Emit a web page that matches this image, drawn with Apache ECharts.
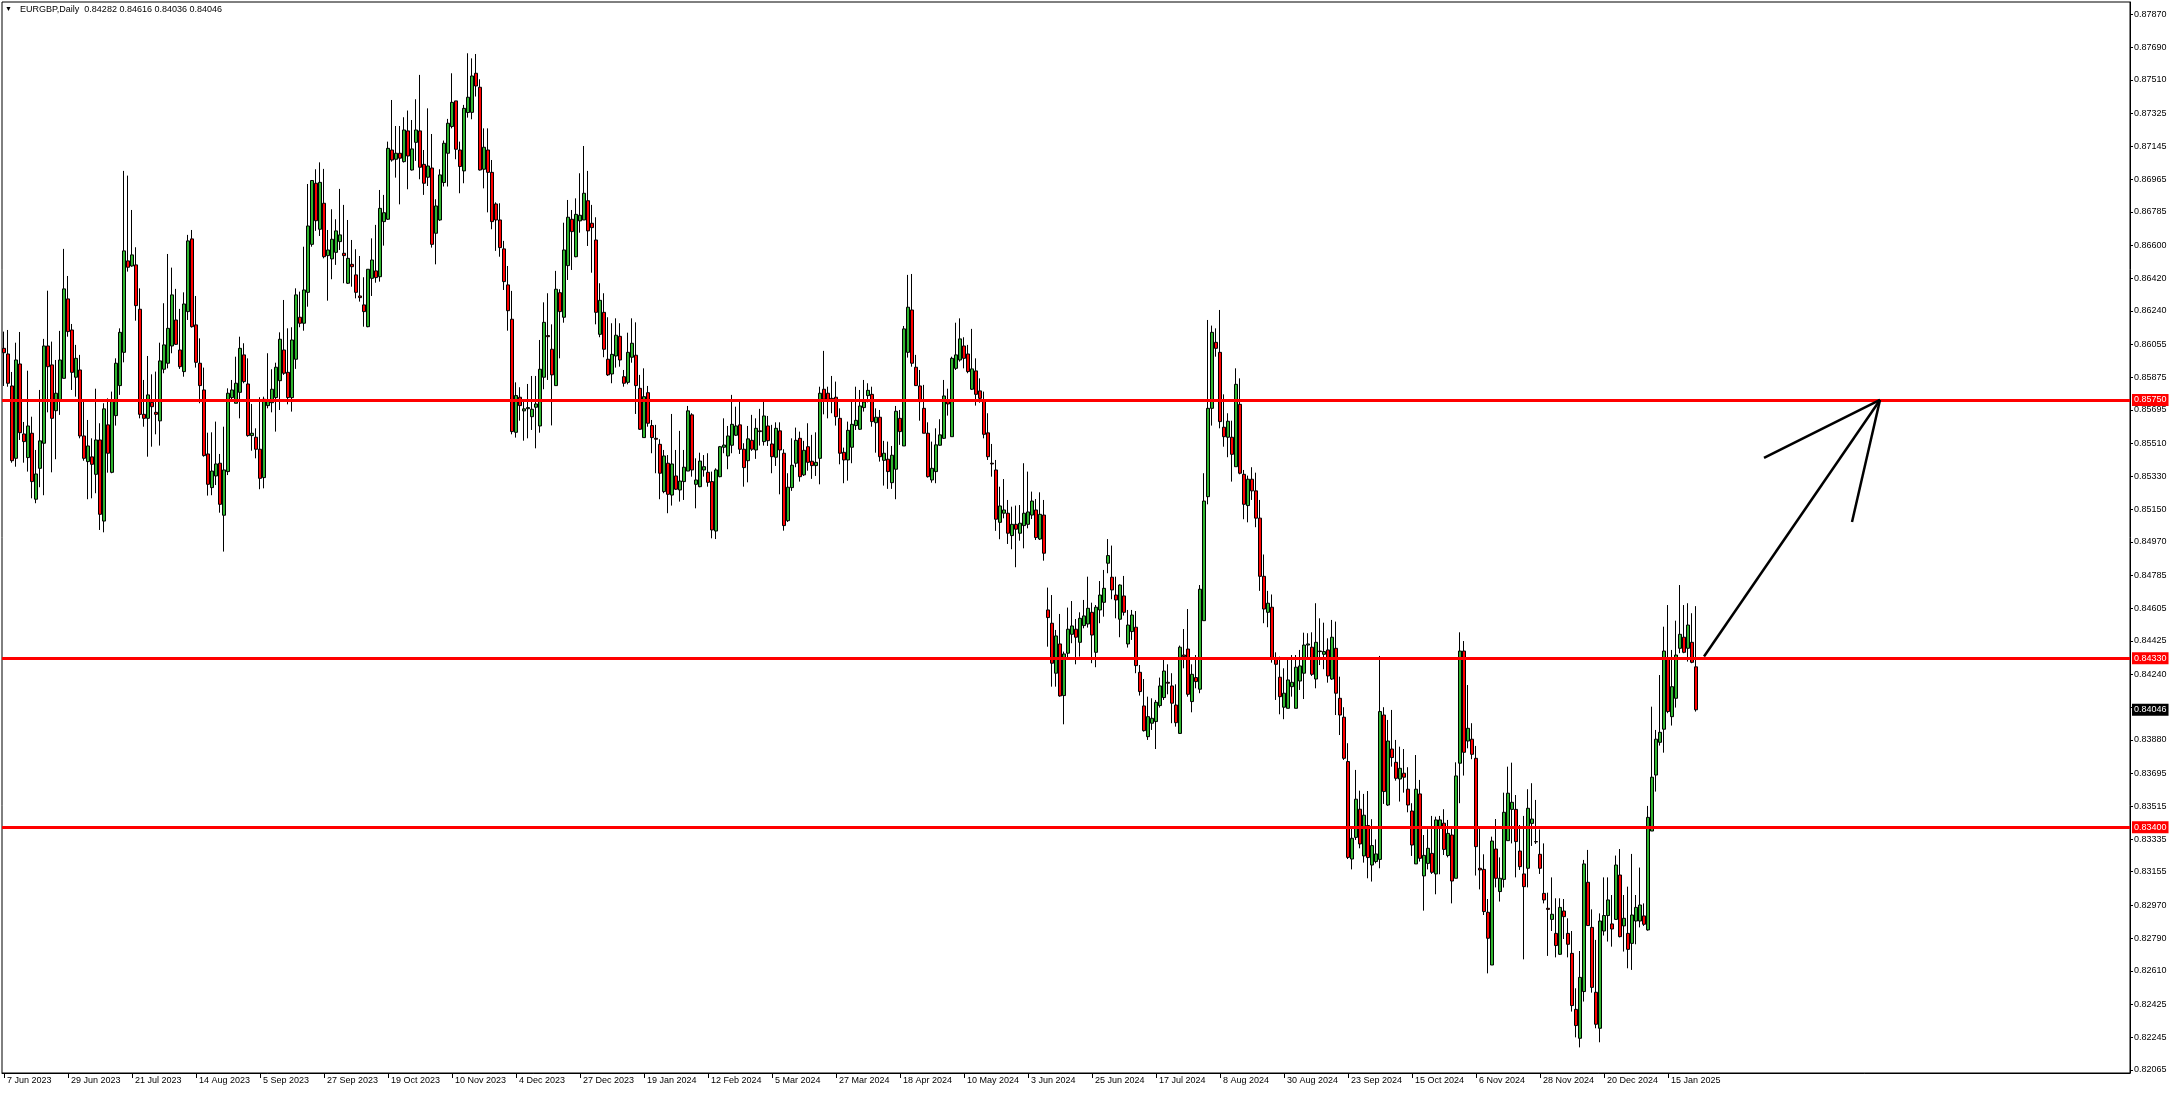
<!DOCTYPE html>
<html>
<head>
<meta charset="utf-8">
<script src="https://cdn.jsdelivr.net/npm/echarts@6/dist/echarts.min.js"></script>
<style>
html,body{margin:0;padding:0;background:#fff;}
#chart{width:2176px;height:1094px;}
</style>
</head>
<body>
<div id="chart"></div>
<script>
const symbolName = 'EURGBP';
const period = 'Daily';

// Daily candles, each row: [open, high, low, close]
const ohlc = [
[0.86034,0.86126,0.85827,0.86010],[0.86003,0.86135,0.85823,0.85842],[0.85827,0.85904,0.85405,0.85416],[0.85429,0.86065,0.85383,0.85970],
[0.85948,0.86124,0.85530,0.85570],[0.85563,0.85629,0.85405,0.85521],[0.85433,0.85911,0.85356,0.85607],[0.85567,0.85658,0.85209,0.85301],
[0.85204,0.85475,0.85182,0.85343],[0.85374,0.85805,0.85270,0.85525],[0.85512,0.86086,0.85226,0.86047],[0.86047,0.86351,0.85682,0.85933],
[0.85943,0.86071,0.85352,0.85649],[0.85691,0.85970,0.85424,0.85787],[0.85750,0.86130,0.85668,0.85970],[0.85869,0.86581,0.85869,0.86361],
[0.86306,0.86432,0.86098,0.86126],[0.86135,0.86168,0.85805,0.85902],[0.85875,0.86053,0.85768,0.85979],[0.85915,0.85998,0.85539,0.85552],
[0.85552,0.85754,0.85416,0.85429],[0.85411,0.85640,0.85204,0.85497],[0.85437,0.85539,0.85209,0.85396],[0.85341,0.85812,0.85237,0.85530],
[0.85530,0.85622,0.85035,0.85121],[0.85084,0.85732,0.85022,0.85701],[0.85613,0.85759,0.85350,0.85457],[0.85352,0.85796,0.85347,0.85746],
[0.85664,0.85979,0.85609,0.85952],[0.85829,0.86144,0.85778,0.86122],[0.86012,0.87010,0.85957,0.86570],[0.86515,0.86984,0.86456,0.86480],
[0.86487,0.86795,0.86483,0.86548],[0.86493,0.86590,0.86186,0.86269],[0.86249,0.86364,0.85649,0.85671],[0.85671,0.85860,0.85603,0.85649],
[0.85649,0.85992,0.85438,0.85778],[0.85737,0.85891,0.85493,0.85713],[0.85682,0.85906,0.85561,0.85671],[0.85635,0.86065,0.85499,0.85965],
[0.85919,0.86282,0.85897,0.86053],[0.85952,0.86553,0.85924,0.86144],[0.86047,0.86478,0.86007,0.86328],[0.86190,0.86361,0.86053,0.86056],
[0.86025,0.86251,0.85921,0.85933],[0.85906,0.86342,0.85878,0.86278],[0.86236,0.86658,0.86190,0.86625],[0.86636,0.86685,0.86148,0.86153],
[0.86163,0.86322,0.85928,0.85957],[0.85952,0.86089,0.85732,0.85829],[0.85805,0.85928,0.85438,0.85444],[0.85453,0.85570,0.85224,0.85286],
[0.85268,0.85572,0.85226,0.85359],[0.85332,0.85631,0.85282,0.85398],[0.85402,0.85453,0.85130,0.85176],[0.85116,0.85603,0.84916,0.85365],
[0.85356,0.85814,0.85337,0.85787],[0.85763,0.85860,0.85741,0.85805],[0.85732,0.85988,0.85732,0.85842],[0.85792,0.86098,0.85649,0.86034],
[0.85998,0.86062,0.85842,0.85851],[0.85838,0.85979,0.85548,0.85554],[0.85554,0.85728,0.85471,0.85567],[0.85545,0.85594,0.85429,0.85479],
[0.85479,0.85765,0.85259,0.85319],[0.85323,0.85768,0.85264,0.85754],[0.85719,0.86007,0.85704,0.85750],[0.85735,0.85919,0.85682,0.85809],
[0.85763,0.85955,0.85576,0.85930],[0.85856,0.86122,0.85695,0.86084],[0.86025,0.86300,0.85888,0.85897],[0.85902,0.86144,0.85726,0.85763],
[0.85763,0.86150,0.85686,0.86080],[0.85974,0.86364,0.85921,0.86328],[0.86205,0.86346,0.86150,0.86172],[0.86172,0.86593,0.86131,0.86355],
[0.86342,0.86938,0.86263,0.86707],[0.86606,0.86960,0.86593,0.86957],[0.86942,0.87019,0.86680,0.86736],[0.86689,0.87057,0.86652,0.86947],
[0.86832,0.87021,0.86529,0.86538],[0.86544,0.86685,0.86296,0.86575],[0.86526,0.86799,0.86414,0.86634],[0.86562,0.86744,0.86493,0.86680],
[0.86621,0.86911,0.86575,0.86658],[0.86557,0.86823,0.86392,0.86544],[0.86392,0.86740,0.86388,0.86529],[0.86496,0.86630,0.86373,0.86483],
[0.86438,0.86579,0.86309,0.86342],[0.86322,0.86542,0.86291,0.86313],[0.86273,0.86425,0.86153,0.86236],[0.86153,0.86469,0.86150,0.86469],
[0.86419,0.86639,0.86322,0.86520],[0.86460,0.86713,0.86395,0.86423],[0.86428,0.86905,0.86401,0.86804],[0.86731,0.86878,0.86599,0.86780],
[0.86744,0.87171,0.86740,0.87134],[0.87125,0.87400,0.87061,0.87070],[0.87074,0.87257,0.86973,0.87107],[0.87107,0.87257,0.86826,0.87080],
[0.87061,0.87305,0.87056,0.87235],[0.87230,0.87342,0.86909,0.87092],[0.87015,0.87290,0.87012,0.87131],[0.87167,0.87404,0.87065,0.87235],
[0.87230,0.87538,0.86964,0.87030],[0.87046,0.87125,0.86878,0.86942],[0.86975,0.87354,0.86927,0.87037],[0.87026,0.87213,0.86588,0.86606],
[0.86667,0.86854,0.86496,0.86817],[0.86740,0.87019,0.86735,0.86988],[0.86946,0.87177,0.86924,0.87162],[0.87107,0.87296,0.86924,0.87272],
[0.87254,0.87547,0.87244,0.87387],[0.87395,0.87395,0.87074,0.87129],[0.87125,0.87171,0.86887,0.87034],[0.87010,0.87373,0.86942,0.87354],
[0.87331,0.87657,0.87303,0.87415],[0.87332,0.87629,0.87294,0.87532],[0.87547,0.87653,0.87419,0.87477],[0.87470,0.87514,0.87012,0.87015],
[0.87019,0.87244,0.86914,0.87140],[0.87125,0.87244,0.86782,0.87002],[0.87002,0.87070,0.86689,0.86731],[0.86828,0.86837,0.86570,0.86740],
[0.86740,0.86832,0.86538,0.86588],[0.86581,0.86625,0.86355,0.86401],[0.86383,0.86487,0.86131,0.86241],[0.86194,0.86350,0.85561,0.85576],
[0.85572,0.85847,0.85543,0.85774],[0.85765,0.85820,0.85636,0.85719],[0.85690,0.85741,0.85526,0.85701],[0.85702,0.85838,0.85539,0.85708],
[0.85658,0.85882,0.85585,0.85699],[0.85710,0.85882,0.85484,0.85728],[0.85607,0.86080,0.85570,0.85919],[0.85875,0.86287,0.85809,0.86177],
[0.86104,0.86337,0.85860,0.86098],[0.86029,0.86166,0.85610,0.85888],[0.85829,0.86460,0.85829,0.86359],[0.86340,0.86359,0.85979,0.86236],
[0.86205,0.86725,0.86175,0.86575],[0.86489,0.86850,0.86410,0.86755],[0.86744,0.86795,0.86465,0.86676],[0.86538,0.86859,0.86535,0.86771],
[0.86735,0.86997,0.86670,0.86766],[0.86740,0.87147,0.86740,0.86887],[0.86846,0.87010,0.86597,0.86680],[0.86722,0.86823,0.86450,0.86698],
[0.86630,0.86755,0.86166,0.86232],[0.86111,0.86392,0.86095,0.86298],[0.86232,0.86337,0.85985,0.86029],[0.85974,0.86205,0.85882,0.85888],
[0.85893,0.86172,0.85842,0.86001],[0.85992,0.86199,0.85928,0.86106],[0.86100,0.86172,0.85933,0.85970],[0.85878,0.85915,0.85823,0.85842],
[0.85847,0.86120,0.85836,0.86012],[0.85985,0.86199,0.85955,0.86062],[0.85996,0.86177,0.85673,0.85829],[0.85814,0.85888,0.85585,0.85589],
[0.85543,0.85924,0.85543,0.85768],[0.85790,0.85827,0.85603,0.85622],[0.85609,0.85640,0.85457,0.85543],[0.85539,0.85613,0.85347,0.85534],
[0.85506,0.85534,0.85204,0.85347],[0.85246,0.85475,0.85237,0.85442],[0.85402,0.85447,0.85127,0.85231],[0.85227,0.85673,0.85169,0.85398],
[0.85332,0.85475,0.85255,0.85259],[0.85255,0.85580,0.85191,0.85304],[0.85301,0.85475,0.85200,0.85380],[0.85359,0.85717,0.85359,0.85690],
[0.85668,0.85677,0.85328,0.85365],[0.85286,0.85429,0.85154,0.85310],[0.85273,0.85460,0.85270,0.85414],[0.85365,0.85447,0.85328,0.85383],
[0.85352,0.85457,0.85273,0.85297],[0.85301,0.85356,0.84989,0.85035],[0.85029,0.85374,0.84985,0.85365],[0.85328,0.85497,0.85325,0.85493],
[0.85490,0.85649,0.85457,0.85502],[0.85442,0.85607,0.85369,0.85552],[0.85501,0.85778,0.85457,0.85616],[0.85556,0.85713,0.85552,0.85607],
[0.85613,0.85745,0.85453,0.85479],[0.85479,0.85512,0.85273,0.85378],[0.85416,0.85607,0.85297,0.85536],[0.85528,0.85668,0.85470,0.85479],
[0.85475,0.85649,0.85426,0.85594],[0.85580,0.85701,0.85499,0.85576],[0.85521,0.85754,0.85499,0.85662],[0.85607,0.85662,0.85497,0.85526],
[0.85508,0.85613,0.85347,0.85438],[0.85435,0.85627,0.85387,0.85594],[0.85580,0.85627,0.85231,0.85475],[0.85457,0.85479,0.85031,0.85059],
[0.85086,0.85347,0.85079,0.85270],[0.85268,0.85539,0.85250,0.85391],[0.85402,0.85598,0.85380,0.85528],[0.85539,0.85576,0.85301,0.85328],
[0.85338,0.85525,0.85332,0.85473],[0.85493,0.85622,0.85361,0.85407],[0.85413,0.85558,0.85316,0.85389],[0.85389,0.85572,0.85332,0.85407],
[0.85429,0.85823,0.85286,0.85787],[0.85809,0.86020,0.85671,0.85754],[0.85787,0.85823,0.85649,0.85745],[0.85759,0.85882,0.85677,0.85754],
[0.85765,0.85851,0.85609,0.85658],[0.85649,0.85704,0.85396,0.85457],[0.85462,0.85488,0.85292,0.85420],[0.85420,0.85631,0.85306,0.85583],
[0.85490,0.85741,0.85402,0.85616],[0.85609,0.85823,0.85585,0.85638],[0.85589,0.85805,0.85585,0.85717],[0.85708,0.85860,0.85686,0.85739],
[0.85774,0.85842,0.85737,0.85803],[0.85781,0.85823,0.85603,0.85631],[0.85625,0.85704,0.85460,0.85655],[0.85655,0.85695,0.85411,0.85438],
[0.85418,0.85525,0.85279,0.85457],[0.85424,0.85521,0.85261,0.85356],[0.85295,0.85497,0.85261,0.85446],[0.85369,0.85717,0.85204,0.85688],
[0.85649,0.85695,0.85503,0.85576],[0.85497,0.86157,0.85497,0.86141],[0.86012,0.86438,0.85983,0.86260],[0.86245,0.86443,0.85933,0.85952],
[0.85930,0.85998,0.85827,0.85829],[0.85827,0.85915,0.85636,0.85741],[0.85704,0.85833,0.85567,0.85567],[0.85567,0.85627,0.85323,0.85328],
[0.85310,0.85521,0.85295,0.85374],[0.85356,0.85594,0.85292,0.85503],[0.85501,0.85644,0.85499,0.85558],[0.85539,0.85860,0.85536,0.85772],
[0.85741,0.85812,0.85664,0.85728],[0.85548,0.85988,0.85548,0.85979],[0.85924,0.86175,0.85915,0.85998],[0.85970,0.86199,0.85961,0.86086],
[0.86047,0.86095,0.85924,0.85979],[0.86003,0.86053,0.85897,0.85906],[0.85809,0.86141,0.85805,0.85921],[0.85910,0.85979,0.85719,0.85781],
[0.85800,0.85869,0.85735,0.85759],[0.85745,0.85796,0.85539,0.85561],[0.85569,0.85677,0.85420,0.85438],[0.85402,0.85508,0.85328,0.85398],
[0.85365,0.85420,0.85030,0.85094],[0.85077,0.85273,0.84984,0.85167],[0.85127,0.85315,0.85099,0.85145],[0.85127,0.85200,0.84958,0.85017],
[0.85004,0.85163,0.84929,0.85066],[0.85066,0.85169,0.84830,0.85039],[0.85017,0.85172,0.84976,0.85072],[0.85059,0.85402,0.84934,0.85127],
[0.85066,0.85356,0.85044,0.85134],[0.85117,0.85246,0.85095,0.85194],[0.85145,0.85205,0.84980,0.84993],[0.84985,0.85242,0.84980,0.85121],
[0.85117,0.85200,0.84866,0.84907],[0.84595,0.84718,0.84393,0.84553],[0.84522,0.84677,0.84173,0.84302],[0.84247,0.84485,0.84173,0.84452],
[0.84408,0.84573,0.84118,0.84122],[0.84124,0.84366,0.83966,0.84353],[0.84357,0.84608,0.84329,0.84489],[0.84461,0.84644,0.84412,0.84507],
[0.84489,0.84545,0.84296,0.84445],[0.84417,0.84582,0.84338,0.84549],[0.84509,0.84650,0.84494,0.84562],[0.84518,0.84778,0.84498,0.84604],
[0.84582,0.84635,0.84302,0.84457],[0.84362,0.84622,0.84280,0.84610],[0.84595,0.84754,0.84522,0.84677],[0.84637,0.84815,0.84558,0.84714],
[0.84852,0.84985,0.84797,0.84894],[0.84775,0.84949,0.84654,0.84705],[0.84677,0.84778,0.84549,0.84650],[0.84544,0.84736,0.84445,0.84732],
[0.84672,0.84782,0.84564,0.84582],[0.84408,0.84595,0.84388,0.84512],[0.84476,0.84595,0.84430,0.84567],[0.84500,0.84589,0.84247,0.84289],
[0.84252,0.84292,0.84124,0.84146],[0.84067,0.84215,0.83926,0.83931],[0.83898,0.84118,0.83880,0.84008],[0.83972,0.84109,0.83935,0.83999],
[0.83981,0.84100,0.83830,0.84087],[0.84069,0.84223,0.84058,0.84177],[0.84113,0.84325,0.84100,0.84259],[0.84197,0.84296,0.84131,0.84192],
[0.84177,0.84247,0.83972,0.84082],[0.84072,0.84186,0.83953,0.83975],[0.83916,0.84399,0.83913,0.84390],[0.84347,0.84490,0.84274,0.84338],
[0.84380,0.84600,0.84118,0.84131],[0.84091,0.84296,0.84032,0.84241],[0.84223,0.84347,0.84164,0.84201],[0.84159,0.84732,0.84137,0.84709],
[0.84536,0.85347,0.84536,0.85194],[0.85218,0.86190,0.85176,0.85704],[0.85704,0.86159,0.85609,0.86122],[0.86067,0.86144,0.85988,0.86034],
[0.86012,0.86245,0.85594,0.85631],[0.85600,0.85781,0.85493,0.85548],[0.85545,0.85677,0.85435,0.85633],[0.85545,0.85636,0.85301,0.85451],
[0.85383,0.85924,0.85383,0.85836],[0.85726,0.85869,0.85341,0.85347],[0.85341,0.85365,0.85094,0.85176],[0.85169,0.85334,0.85077,0.85314],
[0.85314,0.85380,0.85200,0.85250],[0.85250,0.85350,0.85050,0.85100],[0.85100,0.85200,0.84700,0.84780],[0.84780,0.84900,0.84522,0.84600],
[0.84582,0.84700,0.84500,0.84632],[0.84610,0.84680,0.84305,0.84329],[0.84329,0.84362,0.84100,0.84296],[0.84225,0.84338,0.84021,0.84118],
[0.84060,0.84274,0.83994,0.84137],[0.84054,0.84320,0.84054,0.84210],[0.84173,0.84347,0.84118,0.84197],[0.84054,0.84347,0.84054,0.84280],
[0.84204,0.84375,0.84155,0.84287],[0.84247,0.84470,0.84105,0.84402],[0.84402,0.84467,0.84320,0.84408],[0.84390,0.84472,0.84232,0.84241],
[0.84215,0.84632,0.84164,0.84417],[0.84369,0.84549,0.84292,0.84366],[0.84351,0.84525,0.84269,0.84366],[0.84375,0.84439,0.84195,0.84232],
[0.84215,0.84540,0.84210,0.84445],[0.84384,0.84531,0.84017,0.84137],[0.84109,0.84228,0.83907,0.84017],[0.84005,0.84060,0.83770,0.83779],
[0.83761,0.83862,0.83225,0.83234],[0.83225,0.83390,0.83168,0.83339],[0.83344,0.83715,0.83330,0.83554],[0.83499,0.83601,0.83284,0.83308],
[0.83242,0.83583,0.83205,0.83466],[0.83409,0.83599,0.83119,0.83233],[0.83192,0.83444,0.83101,0.83299],[0.83211,0.83333,0.83201,0.83253],
[0.83223,0.84342,0.83174,0.84036],[0.84017,0.84060,0.83528,0.83596],[0.83522,0.83990,0.83517,0.83874],[0.83830,0.84045,0.83733,0.83783],
[0.83757,0.83880,0.83656,0.83669],[0.83665,0.83843,0.83541,0.83724],[0.83697,0.83830,0.83590,0.83675],[0.83609,0.83730,0.83482,0.83522],
[0.83489,0.83532,0.83242,0.83302],[0.83198,0.83797,0.83198,0.83609],[0.83583,0.83660,0.83211,0.83229],[0.83132,0.83357,0.82941,0.83245],
[0.83201,0.83389,0.83168,0.83284],[0.83256,0.83462,0.83143,0.83152],[0.83143,0.83458,0.83031,0.83440],[0.83400,0.83462,0.83141,0.83440],
[0.83422,0.83499,0.83247,0.83278],[0.83244,0.83440,0.83234,0.83366],[0.83357,0.83400,0.82981,0.83104],[0.83119,0.83757,0.83119,0.83682],
[0.83752,0.84472,0.83532,0.84369],[0.84369,0.84424,0.83684,0.83812],[0.83874,0.84182,0.83834,0.83944],[0.83884,0.83972,0.83774,0.83801],
[0.83779,0.83847,0.83134,0.83293],[0.83174,0.83398,0.83058,0.83165],[0.83168,0.83251,0.82917,0.82936],[0.82932,0.83005,0.82596,0.82789],
[0.82642,0.83348,0.82642,0.83324],[0.83280,0.83445,0.83069,0.83119],[0.83046,0.83234,0.82991,0.83119],[0.83113,0.83590,0.83068,0.83482],
[0.83326,0.83733,0.83326,0.83587],[0.83498,0.83755,0.83311,0.83537],[0.83498,0.83577,0.83124,0.83321],[0.83269,0.83412,0.83165,0.83183],
[0.83143,0.83462,0.82673,0.83073],[0.83174,0.83609,0.83069,0.83504],[0.83421,0.83642,0.83297,0.83445],[0.83321,0.83550,0.83308,0.83319],
[0.83251,0.83388,0.83143,0.83174],[0.83036,0.83311,0.82981,0.83000],[0.82954,0.83040,0.82692,0.82948],[0.82893,0.83124,0.82829,0.82921],
[0.82816,0.83009,0.82684,0.82749],[0.82701,0.83009,0.82697,0.82959],[0.82939,0.83005,0.82785,0.82908],[0.82816,0.82899,0.82684,0.82756],
[0.82706,0.82829,0.82386,0.82419],[0.82398,0.82514,0.82244,0.82309],[0.82239,0.82719,0.82189,0.82574],[0.82496,0.83220,0.82441,0.83198],
[0.83097,0.83275,0.82859,0.82859],[0.82849,0.82948,0.82490,0.82519],[0.82492,0.82780,0.82294,0.82316],[0.82294,0.82926,0.82217,0.82884],
[0.82829,0.83124,0.82804,0.82914],[0.82914,0.83124,0.82771,0.83000],[0.82868,0.83027,0.82743,0.82840],[0.82893,0.83244,0.82890,0.83192],
[0.83137,0.83280,0.82794,0.82798],[0.82857,0.83027,0.82716,0.82899],[0.82816,0.83073,0.82624,0.82728],[0.82761,0.83253,0.82615,0.82917],
[0.82884,0.83027,0.82756,0.82959],[0.82884,0.83178,0.82849,0.82972],[0.82912,0.82981,0.82857,0.82866],[0.82835,0.83517,0.82831,0.83454],
[0.83379,0.84063,0.83379,0.83675],[0.83687,0.83935,0.83596,0.83884],[0.83867,0.84237,0.83849,0.83922],[0.83939,0.84503,0.83810,0.84369],
[0.84324,0.84622,0.84027,0.84036],[0.84008,0.84375,0.83959,0.84173],[0.84109,0.84536,0.84058,0.84347],[0.84384,0.84732,0.84357,0.84461],
[0.84445,0.84622,0.84357,0.84362],[0.84384,0.84632,0.84311,0.84512],[0.84417,0.84577,0.84302,0.84307],[0.84282,0.84616,0.84036,0.84046]
];

// Date labels shown every 16 bars on the time axis
const xTickLabels = ['7 Jun 2023','29 Jun 2023','21 Jul 2023','14 Aug 2023','5 Sep 2023','27 Sep 2023','19 Oct 2023',
  '10 Nov 2023','4 Dec 2023','27 Dec 2023','19 Jan 2024','12 Feb 2024','5 Mar 2024','27 Mar 2024','18 Apr 2024',
  '10 May 2024','3 Jun 2024','25 Jun 2024','17 Jul 2024','8 Aug 2024','30 Aug 2024','23 Sep 2024','15 Oct 2024',
  '6 Nov 2024','28 Nov 2024','20 Dec 2024','15 Jan 2025'];
const labelEvery = 16;
const totalSlots = 532; // bars + empty chart shift on the right

// Price scale tick labels (right axis)
const yTickValues = [0.87870,0.87690,0.87510,0.87325,0.87145,0.86965,0.86785,0.86600,0.86420,0.86240,0.86055,
  0.85875,0.85695,0.85510,0.85330,0.85150,0.84970,0.84785,0.84605,0.84425,0.84240,0.84060,0.83880,0.83695,
  0.83515,0.83335,0.83155,0.82970,0.82790,0.82610,0.82425,0.82245,0.82065];
const yMin = 0.82048, yMax = 0.87939;

// Horizontal levels
const levels = [0.85750, 0.84330, 0.83400];

// Arrow annotation: [bar index, price]
const arrowShaft = [[425, 0.84339], [469, 0.85750]];
const arrowHeadA = [[469, 0.85750], [440, 0.85431]];
const arrowHeadB = [[469, 0.85750], [462, 0.85079]];

const categories = Array.from({length: totalSlots}, (_, i) => String(i));
const candleData = ohlc.map(r => [r[0], r[3], r[2], r[1]]);
const last = ohlc[ohlc.length - 1];
const f5 = v => Number(v).toFixed(5);

const FONT = '"Liberation Sans", Arial, sans-serif';
const showLabel = idx => idx % labelEvery === 0 && idx / labelEvery < xTickLabels.length;

const chart = echarts.init(document.getElementById('chart'), null, {renderer: 'canvas'});

const arrowStyle = {color: '#000', width: 2.5, type: 'solid', opacity: 1};

chart.setOption({
  animation: false,
  backgroundColor: '#fff',
  grid: {left: 2, right: 46, top: 2, bottom: 21, show: true, borderColor: '#000', borderWidth: 1, backgroundColor: '#fff'},
  xAxis: {
    type: 'category',
    data: categories,
    boundaryGap: true,
    axisLine: {show: true, lineStyle: {color: '#000', width: 1}},
    axisTick: {show: true, interval: showLabel, alignWithLabel: true, length: 5, lineStyle: {color: '#000'}},
    axisLabel: {
      show: true, interval: showLabel, margin: 3, align: 'left', padding: [0, 0, 0, 3],
      fontFamily: FONT, fontSize: 9, color: '#000',
      formatter: (v, idx) => xTickLabels[idx / labelEvery] || ''
    },
    splitLine: {show: false}
  },
  yAxis: {
    type: 'value',
    position: 'right',
    min: yMin, max: yMax,
    scale: true,
    axisLine: {show: true, lineStyle: {color: '#000', width: 1}},
    axisTick: {show: true, length: 3, customValues: yTickValues, lineStyle: {color: '#000'}},
    axisLabel: {show: true, customValues: yTickValues, margin: 4, fontFamily: FONT, fontSize: 9, color: '#000', formatter: v => f5(v)},
    splitLine: {show: false}
  },
  graphic: [
    {type: 'text', left: 5, top: 6, z: 100, style: {text: '\u25BC', font: '7px ' + FONT, fill: '#000'}},
    {type: 'text', left: 20, top: 5, z: 100, style: {
      text: symbolName + ',' + period + '  ' + [last[0], last[1], last[2], last[3]].map(f5).join(' '),
      font: '9px ' + FONT, fill: '#000'}}
  ],
  series: [{
    type: 'candlestick',
    data: candleData,
    barWidth: 3,
    itemStyle: {color: '#2fb52f', color0: '#ff0000', borderColor: '#000', borderColor0: '#000', borderWidth: 1},
    emphasis: {disabled: true},
    markLine: {
      silent: true, symbol: 'none', animation: false, precision: 5,
      label: {show: true, position: 'end', distance: 2, fontFamily: FONT, fontSize: 9, color: '#fff',
        backgroundColor: '#ff0000', padding: [2, 2, 1, 2], formatter: p => f5(p.value)},
      lineStyle: {color: '#ff0000', width: 3, type: 'solid'},
      data: levels.map(v => ({yAxis: v})).concat([
        {yAxis: last[3], lineStyle: {color: 'rgba(0,0,0,0)', width: 1, opacity: 1},
          label: {backgroundColor: '#000', color: '#fff', opacity: 1}},
        [{coord: arrowShaft[0], lineStyle: arrowStyle, label: {show: false}}, {coord: arrowShaft[1]}],
        [{coord: arrowHeadA[0], lineStyle: arrowStyle, label: {show: false}}, {coord: arrowHeadA[1]}],
        [{coord: arrowHeadB[0], lineStyle: arrowStyle, label: {show: false}}, {coord: arrowHeadB[1]}]
      ])
    }
  }]
});
</script>
</body>
</html>
